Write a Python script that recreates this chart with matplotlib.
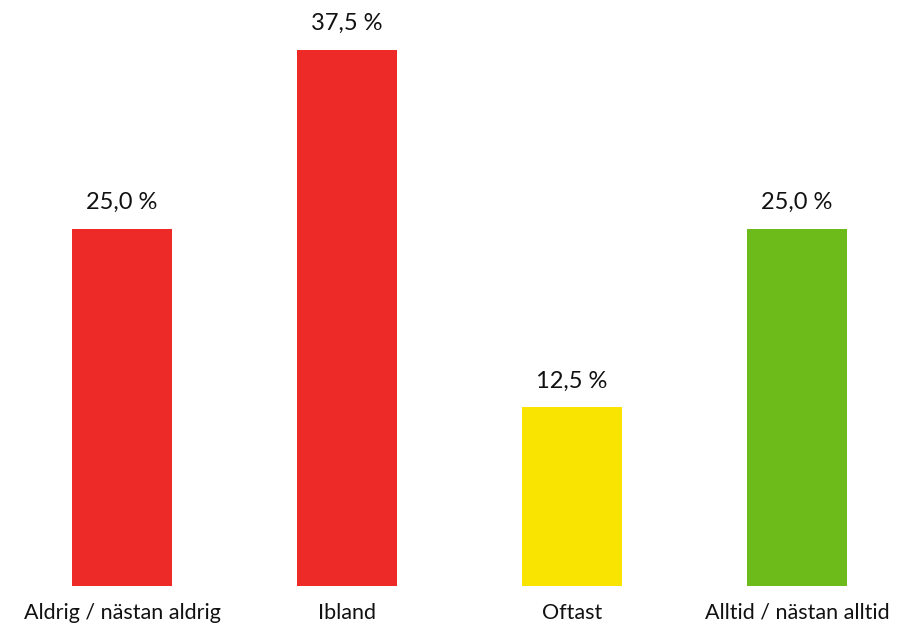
import matplotlib.pyplot as plt

# ---------------- DATA ----------------
categories = ["Aldrig / nästan aldrig", "Ibland", "Oftast", "Alltid / nästan alltid"]
values = [25.0, 37.5, 12.5, 25.0]
colors = ["#EE2A29", "#EE2A29", "#F9E300", "#6CBB1A"]

plt.rcParams['font.family'] = ['Lato', 'DejaVu Sans']

fig = plt.figure(figsize=(9.15, 6.26), dpi=100)
# axes: baseline at y=586px from top, 14.3 px per percent
ax = fig.add_axes([0, 40 / 626, 1, 586 / 626])

x = list(range(len(categories)))
bars = ax.bar(x, values, width=100 / 225, color=colors)

ax.set_xlim(-122 / 225, (915 - 122) / 225)
ax.set_ylim(0, 586 / 14.3)

for xi, v in zip(x, values):
    ax.annotate(f"{v:.1f} %".replace(".", ","), (xi, v), xytext=(0, 14),
                textcoords="offset points", ha="center", va="baseline",
                fontsize=17, color="#111111")

ax.set_xticks(x)
ax.set_xticklabels(categories, fontsize=15.5, color="#111111")
ax.tick_params(axis="x", length=0, pad=12)
ax.set_yticks([])
for s in ax.spines.values():
    s.set_visible(False)

fig.savefig("out.png", dpi=100)
